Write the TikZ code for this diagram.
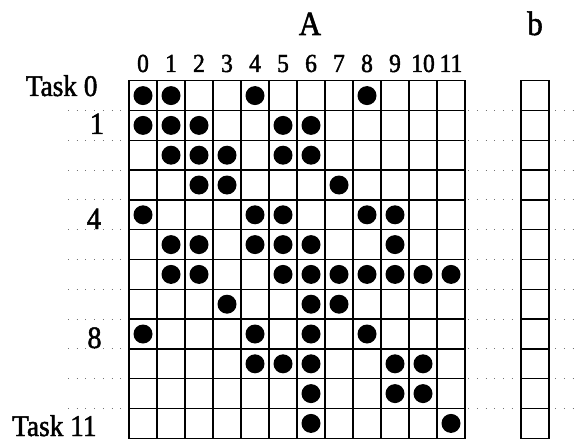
\documentclass[tikz,border=0pt]{standalone}
\usepackage{fontspec}
\setmainfont{Liberation Serif}[FakeBold=1.6, FakeStretch=0.91]
\begin{document}
\begin{tikzpicture}[x=1pt,y=-1pt,
  gridline/.style={line width=1.4pt, line cap=rect},
  dotline/.style={black!55, line width=0.9pt, dash pattern=on 0.9pt off 7.8pt},
  blob/.style={circle, fill=black, minimum size=19pt, inner sep=0pt},
  collabel/.style={font=\fontsize{26}{26}\selectfont, anchor=base},
  rowlabel/.style={font=\fontsize{30}{30}\selectfont, anchor=base east},
  rowdigit/.style={font=\fontsize{31}{31}\selectfont, anchor=base},
  titlelabel/.style={font=\fontsize{34}{34}\selectfont, anchor=base}]
\useasboundingbox (0,0) rectangle (578,441);
% dotted row separators
\foreach \k in {1,...,11}
  \draw[dotline] (68,{80.7+29.8*\k}) -- (578,{80.7+29.8*\k});
% matrix A grid
\foreach \i in {0,...,12}
  \draw[gridline] ({129+28*\i},80.7) -- ({129+28*\i},438.3);
\foreach \k in {0,...,12}
  \draw[gridline] (129,{80.7+29.8*\k}) -- (465,{80.7+29.8*\k});
% vector b
\draw[gridline] (521,80.7) -- (521,438.3);
\draw[gridline] (549,80.7) -- (549,438.3);
\foreach \k in {0,...,12}
  \draw[gridline] (521,{80.7+29.8*\k}) -- (549,{80.7+29.8*\k});
% nonzeros
\foreach \r/\cols in {0/{0,1,4,8}, 1/{0,1,2,5,6}, 2/{1,2,3,5,6}, 3/{2,3,7},
    4/{0,4,5,8,9}, 5/{1,2,4,5,6,9}, 6/{1,2,5,6,7,8,9,10,11}, 7/{3,6,7},
    8/{0,4,6,8}, 9/{4,5,6,9,10}, 10/{6,9,10}, 11/{6,11}}
  \foreach \c in \cols
    \node[blob] (d\r-\c) at ({143+28*\c},{95.6+29.8*\r}) {};
% titles
\node[titlelabel] (tA) at (310,35) {A};
\node[titlelabel] (tb) at (535,35) {b};
% column labels
\foreach \i in {0,...,11}
  \node[collabel] (col\i) at ({143+28*\i},72) {\i};
% row labels
\node[rowlabel] (task0) at (101,96) {Task 0};
\node[rowdigit] (r1) at (97,134) {1};
\node[rowdigit] (r4) at (94,229) {4};
\node[rowdigit] (r8) at (94.5,348) {8};
\node[rowlabel] (task11) at (100,436) {Task 11};
\end{tikzpicture}
\end{document}
